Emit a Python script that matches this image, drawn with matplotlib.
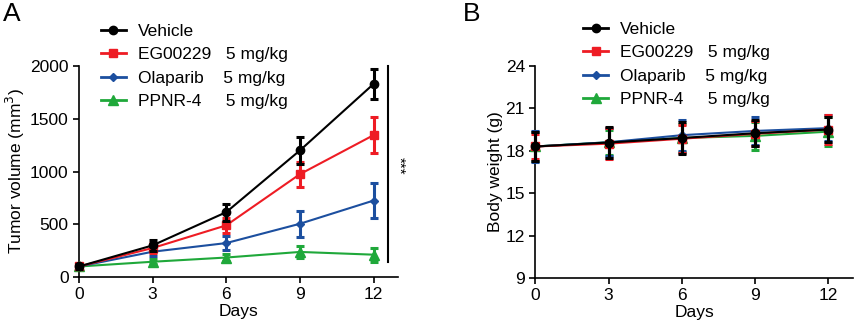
"""
Tumor volume and body weight over 12 days, four treatment groups.
Output: out.png
"""
import matplotlib.pyplot as plt
from matplotlib.lines import Line2D

plt.rcParams["font.family"] = ["Liberation Sans", "DejaVu Sans"]
plt.rcParams["font.size"] = 12.5

DAYS = [0, 3, 6, 9, 12]
GROUPS = ["Vehicle", "EG00229   5 mg/kg", "Olaparib    5 mg/kg", "PPNR-4     5 mg/kg"]
COLORS = ["#000000", "#ee1c24", "#1c4f9f", "#1fa83a"]
MARKERS = ["o", "s", "D", "^"]
MSIZES = [6, 6, 4.5, 6.5]

# panel A: tumor volume (mm^3)
TUMOR_MEAN = [
    [100, 300, 615, 1200, 1830],
    [100, 275, 490, 975, 1345],
    [100, 240, 322, 505, 725],
    [100, 145, 185, 238, 212],
]
TUMOR_ERR = [
    [20, 55, 80, 125, 145],
    [20, 45, 70, 120, 170],
    [20, 40, 70, 125, 165],
    [20, 25, 30, 60, 65],
]

# panel B: body weight (g)
WEIGHT_MEAN = [
    [18.3, 18.58, 18.9, 19.24, 19.5],
    [18.3, 18.5, 18.85, 19.2, 19.5],
    [18.3, 18.6, 19.1, 19.4, 19.6],
    [18.3, 18.6, 18.9, 19.05, 19.35],
]
WEIGHT_ERR = [
    [1.0, 1.1, 1.1, 0.9, 0.9],
    [0.9, 1.1, 1.0, 0.9, 1.0],
    [1.1, 1.0, 1.1, 1.0, 0.9],
    [1.0, 0.9, 1.0, 1.0, 1.0],
]


def draw_panel(ax, means, errs):
    handles = []
    for i, (mean, err, c, m, ms) in enumerate(zip(means, errs, COLORS, MARKERS, MSIZES)):
        ax.errorbar(DAYS, mean, yerr=err, color=c, marker=m, ms=ms,
                    lw=1.5, elinewidth=2.2, capsize=3, capthick=2.2,
                    clip_on=False, zorder=10 - i)
        handles.append(Line2D([], [], color=c, marker=m, ms=ms, lw=2))
    for side in ["top", "right"]:
        ax.spines[side].set_visible(False)
    for side in ["left", "bottom"]:
        ax.spines[side].set_linewidth(1.2)
    ax.tick_params(width=1.2, length=4, labelsize=12.5)
    ax.set_xlim(0, 13)
    ax.set_xticks(DAYS)
    ax.set_xlabel("Days", labelpad=1)
    return handles


def main():
    fig = plt.figure(figsize=(8.58, 3.31), dpi=100)
    ax_a = fig.add_axes([0.092, 0.163, 0.372, 0.6375])
    ax_b = fig.add_axes([0.624, 0.160, 0.370, 0.641])

    h = draw_panel(ax_a, TUMOR_MEAN, TUMOR_ERR)
    ax_a.set_ylim(0, 2000)
    ax_a.set_yticks([0, 500, 1000, 1500, 2000])
    ax_a.set_ylabel("Tumor volume (mm$^3$)", labelpad=2)
    ax_a.plot([12.6, 12.6], [140, 2000], color="black", lw=1.5, clip_on=False)
    ax_a.text(13.05, 1050, "***", rotation=270, ha="center", va="center", fontsize=11)
    ax_a.legend(h, GROUPS, loc="upper left", bbox_to_anchor=(0.118, 0.928),
                bbox_transform=fig.transFigure, frameon=False, fontsize=12.5,
                handlelength=1.4, handletextpad=0.7, labelspacing=0.48,
                borderpad=0, borderaxespad=0)

    h = draw_panel(ax_b, WEIGHT_MEAN, WEIGHT_ERR)
    ax_b.set_ylim(9, 24)
    ax_b.set_yticks([9, 12, 15, 18, 21, 24])
    ax_b.set_ylabel("Body weight (g)", labelpad=2)
    ax_b.legend(h, GROUPS, loc="upper left", bbox_to_anchor=(0.68, 0.935),
                bbox_transform=fig.transFigure, frameon=False, fontsize=12.5,
                handlelength=1.4, handletextpad=0.7, labelspacing=0.48,
                borderpad=0, borderaxespad=0)

    fig.text(0.003, 0.995, "A", fontsize=19, va="top", ha="left")
    fig.text(0.540, 0.995, "B", fontsize=19, va="top", ha="left")

    fig.savefig("out.png", dpi=100)
    plt.close(fig)


if __name__ == "__main__":
    main()
